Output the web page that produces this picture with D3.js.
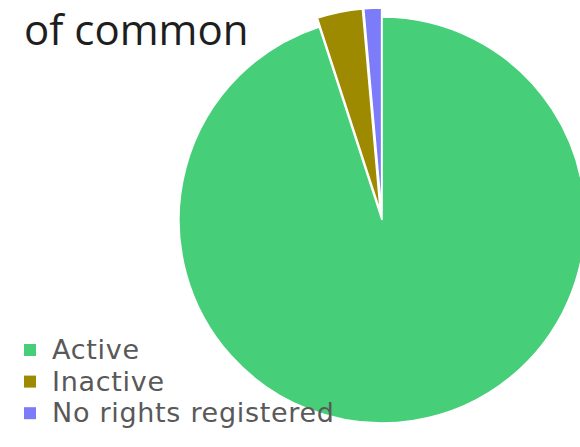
<!DOCTYPE html>
<html>
<head>
<meta charset="utf-8">
<script src="https://cdn.jsdelivr.net/npm/d3@7"></script>
<style>
  html, body { margin: 0; padding: 0; background: #fff; }
  svg { display: block; font-family: "Open Sans", "Noto Sans", sans-serif; }
</style>
</head>
<body>
<div id="chart"></div>
<script>
// chart data
const categories = ['Active', 'Inactive', 'No rights registered'];
const values = [95.0, 3.6, 1.4];
const colors = ['#46CF78', '#9E8A00', '#7C7CF8'];
const exploded = [0, 9, 9];
const titleText = 'of common';

const width = 580, height = 447;
const cx = 382, cy = 220, radius = 203;

const svg = d3.select('#chart').append('svg')
    .attr('width', width)
    .attr('height', height);

// title (only the last line is visible)
svg.append('text')
    .attr('x', 24)
    .attr('y', 45)
    .attr('font-size', 42)
    .attr('fill', '#1e1e1e')
    .text(titleText);

const pie = d3.pie().sort(null).value(function (d) { return d; });
const arc = d3.arc().innerRadius(0).outerRadius(radius);

const arcs = pie(values);

const g = svg.append('g')
    .attr('transform', `translate(${cx}, ${cy})`);

g.selectAll('.slice')
    .data(arcs)
    .enter()
    .append('path')
    .attr('class', 'slice')
    .attr('d', arc)
    .attr('transform', function (d, i) {
        const mid = (d.startAngle + d.endAngle) / 2;
        const off = exploded[i];
        return `translate(${Math.sin(mid) * off}, ${-Math.cos(mid) * off})`;
    })
    .style('fill', function (d, i) { return colors[i]; })
    .style('stroke', '#fff')
    .style('stroke-width', 1.5);

// legend
const legend = svg.selectAll('.legend')
    .data(categories)
    .enter().append('g')
    .attr('class', 'legend')
    .attr('transform', function (d, i) { return `translate(24, ${359 + i * 31.6})`; });

legend.append('rect')
    .attr('x', 0)
    .attr('y', -15)
    .attr('width', 12)
    .attr('height', 12)
    .style('fill', function (d, i) { return colors[i]; });

legend.append('text')
    .attr('x', 28)
    .attr('y', 0)
    .attr('font-family', '"DejaVu Sans", sans-serif')
    .attr('font-size', 27)
    .attr('letter-spacing', 0.7)
    .attr('fill', '#595959')
    .text(function (d) { return d; });
</script>
</body>
</html>
